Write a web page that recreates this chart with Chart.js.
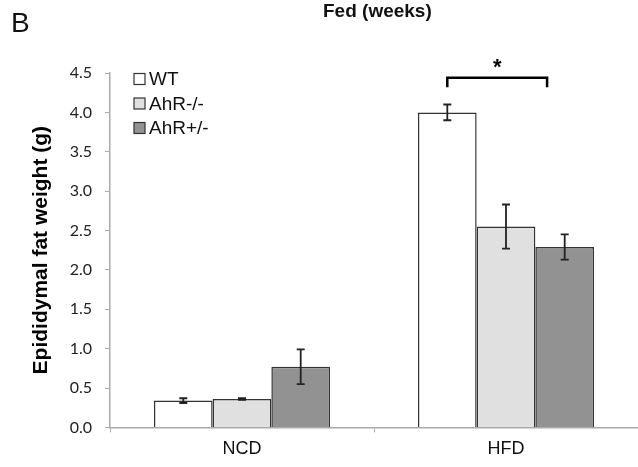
<!DOCTYPE html>
<html>
<head>
<meta charset="utf-8">
<script src="https://cdn.jsdelivr.net/npm/chart.js@4.4.1/dist/chart.umd.min.js"></script>
<style>
  html, body { margin: 0; padding: 0; background: #fff; }
  #wrap { width: 638px; height: 467px; position: relative; }
</style>
</head>
<body>
<div id="wrap"><canvas id="fatChart"></canvas></div>
<script>
// data
const diets = ['NCD', 'HFD'];
const seriesNames = ['WT', 'AhR-/-', 'AhR+/-'];
const wtMean = [0.34, 4.0];
const koMean = [0.36, 2.55];
const hetMean = [0.77, 2.29];
const wtErr = [0.03, 0.10];
const koErr = [0.01, 0.28];
const hetErr = [0.22, 0.16];
const yTicks = [0, 0.5, 1.0, 1.5, 2.0, 2.5, 3.0, 3.5, 4.0, 4.5];

const fills = ['#ffffff', '#e0e0e0', '#929292'];
const errs = [wtErr, koErr, hetErr];

// error bars, bracket, legend and labels
const extras = {
    id: 'extras',
    afterDatasetsDraw(chart) {
        const ctx = chart.ctx;
        const y = chart.scales.y;
        ctx.save();
        ctx.strokeStyle = '#222';
        ctx.lineWidth = 1.8;
        chart.data.datasets.forEach((ds, i) => {
            const meta = chart.getDatasetMeta(i);
            meta.data.forEach((bar, j) => {
                const top = y.getPixelForValue(ds.data[j] + errs[i][j]);
                const bot = y.getPixelForValue(ds.data[j] - errs[i][j]);
                ctx.beginPath();
                ctx.moveTo(bar.x, top); ctx.lineTo(bar.x, bot);
                ctx.moveTo(bar.x - 4, top); ctx.lineTo(bar.x + 4, top);
                ctx.moveTo(bar.x - 4, bot); ctx.lineTo(bar.x + 4, bot);
                ctx.stroke();
            });
        });

        // significance bracket over HFD
        const b0 = chart.getDatasetMeta(0).data[1];
        const b1 = chart.getDatasetMeta(1).data[1];
        const x0 = b0.x;
        const x1 = b1.x + b1.width * 0.7;
        const yb = y.getPixelForValue(4.44);
        const yl = y.getPixelForValue(4.32);
        ctx.strokeStyle = '#000';
        ctx.lineWidth = 2.5;
        ctx.beginPath();
        ctx.moveTo(x0, yl); ctx.lineTo(x0, yb); ctx.lineTo(x1, yb); ctx.lineTo(x1, yl);
        ctx.stroke();
        ctx.fillStyle = '#000';
        ctx.font = 'bold 22px "Liberation Sans", Arial, sans-serif';
        ctx.textAlign = 'center';
        ctx.textBaseline = 'middle';
        ctx.fillText('*', (x0 + x1) / 2, yb - 10);

        // legend inside plot
        ctx.font = '19px "Liberation Sans", Arial, sans-serif';
        ctx.textAlign = 'left';
        ctx.lineWidth = 1.2;
        seriesNames.forEach((name, i) => {
            const cy = 79 + i * 24.5;
            ctx.fillStyle = fills[i];
            ctx.fillRect(134, cy - 5.5, 11, 11);
            ctx.strokeStyle = '#333';
            ctx.strokeRect(134, cy - 5.5, 11, 11);
            ctx.fillStyle = '#111';
            ctx.fillText(name, 149, cy + 1);
        });

        // panel letter and header
        ctx.font = '28px "Liberation Sans", Arial, sans-serif';
        ctx.fillText('B', 11, 24);
        ctx.font = 'bold 19px "Liberation Sans", Arial, sans-serif';
        ctx.textAlign = 'left';
        ctx.textBaseline = 'alphabetic';
        ctx.fillText('Fed (weeks)', 323, 17);
        ctx.restore();
    }
};

new Chart(document.getElementById('fatChart'), {
    type: 'bar',
    data: {
        labels: diets,
        datasets: [
            { label: seriesNames[0], data: wtMean, backgroundColor: fills[0] },
            { label: seriesNames[1], data: koMean, backgroundColor: fills[1] },
            { label: seriesNames[2], data: hetMean, backgroundColor: fills[2] }
        ].map(d => Object.assign(d, {
            borderColor: '#333',
            borderWidth: 1.5,
            categoryPercentage: 0.667,
            barPercentage: 1.0
        }))
    },
    plugins: [extras],
    options: {
        responsive: true,
        maintainAspectRatio: false,
        animation: false,
        layout: { padding: { top: 73, right: 0, bottom: 1, left: 0 } },
        plugins: {
            legend: { display: false },
            tooltip: { enabled: false }
        },
        scales: {
            x: {
                grid: {
                    display: true,
                    drawOnChartArea: false,
                    color: '#aaa',
                    tickLength: 5
                },
                border: { color: '#aaa', width: 1.5 },
                ticks: {
                    color: '#111',
                    padding: 6,
                    font: { family: '"Liberation Sans", Arial, sans-serif', size: 18 }
                }
            },
            y: {
                min: 0,
                max: 4.5,
                afterBuildTicks: axis => { axis.ticks = yTicks.map(v => ({ value: v })); },
                afterFit: axis => { axis.width = 110; },
                grid: {
                    display: true,
                    drawOnChartArea: false,
                    color: '#aaa',
                    tickLength: 5
                },
                border: { color: '#aaa', width: 1.5 },
                ticks: {
                    color: '#222',
                    padding: 13,
                    font: { family: 'Lato, "Open Sans", sans-serif', size: 16 },
                    callback: v => v.toFixed(1)
                },
                title: {
                    display: true,
                    text: 'Epididymal fat weight (g)',
                    color: '#000',
                    padding: { top: 29, bottom: 0 },
                    font: { family: '"Liberation Sans", Arial, sans-serif', size: 21, weight: 'bold' }
                }
            }
        }
    }
});
</script>
</body>
</html>
